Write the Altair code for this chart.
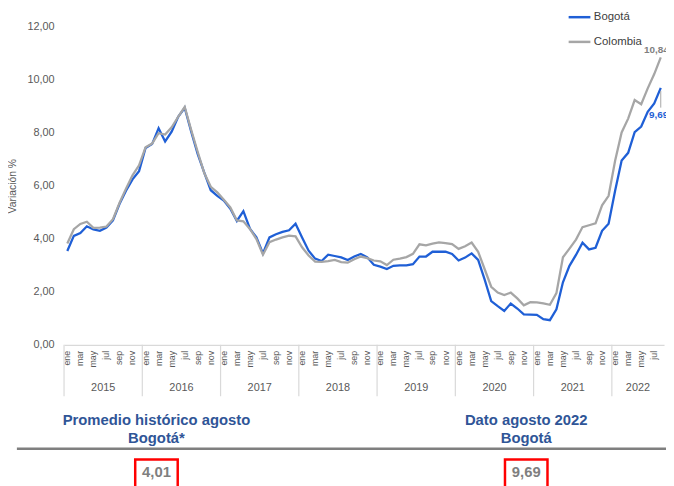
import altair as alt
import pandas as pd

# ---------------- data ----------------
years = [2015, 2016, 2017, 2018, 2019, 2020, 2021, 2022]
month_names = ['ene', 'feb', 'mar', 'abr', 'may', 'jun', 'jul', 'ago', 'sep', 'oct', 'nov', 'dic']

bogota = [
    3.54, 4.11, 4.22, 4.47, 4.35, 4.30, 4.42, 4.69, 5.31, 5.81, 6.24, 6.55,
    7.42, 7.57, 8.17, 7.67, 8.04, 8.60, 8.94, 8.04, 7.19, 6.49, 5.83, 5.62,
    5.44, 5.13, 4.67, 5.04, 4.38, 4.05, 3.45, 4.05, 4.17, 4.26, 4.32, 4.57,
    4.05, 3.55, 3.25, 3.16, 3.40, 3.35, 3.30, 3.20, 3.33, 3.43, 3.30, 3.02,
    2.95, 2.86, 2.98, 3.00, 3.00, 3.04, 3.33, 3.33, 3.51, 3.51, 3.51, 3.43,
    3.18, 3.29, 3.45, 3.20, 2.46, 1.65, 1.46, 1.28, 1.56, 1.37, 1.15, 1.14,
    1.13, 0.97, 0.93, 1.34, 2.36, 2.98, 3.39, 3.85, 3.60, 3.66, 4.30, 4.57,
    5.81, 6.95, 7.24, 8.02, 8.23, 8.79, 9.10, 9.69,
]
colombia = [
    3.82, 4.36, 4.56, 4.64, 4.41, 4.42, 4.46, 4.74, 5.35, 5.89, 6.39, 6.77,
    7.45, 7.59, 7.98, 7.93, 8.20, 8.60, 8.97, 8.10, 7.27, 6.48, 5.96, 5.75,
    5.47, 5.18, 4.69, 4.66, 4.37, 3.99, 3.40, 3.87, 3.97, 4.05, 4.12, 4.09,
    3.68, 3.37, 3.14, 3.13, 3.16, 3.20, 3.12, 3.10, 3.23, 3.33, 3.27, 3.18,
    3.15, 3.01, 3.21, 3.25, 3.31, 3.43, 3.79, 3.75, 3.82, 3.86, 3.84, 3.80,
    3.62, 3.72, 3.86, 3.51, 2.85, 2.19, 1.97, 1.88, 1.97, 1.75, 1.49, 1.61,
    1.60, 1.56, 1.51, 1.95, 3.30, 3.63, 3.97, 4.44, 4.51, 4.58, 5.26, 5.62,
    6.94, 8.01, 8.53, 9.23, 9.07, 9.67, 10.21, 10.84,
]
series_names = ['Bogotá', 'Colombia']
series_colors = ['#1F5FD6', '#A6A6A6']
y_ticks = [0, 2, 4, 6, 8, 10, 12]
x_label_months = ['ene', 'mar', 'may', 'jul', 'sep', 'nov']

summary_titles = [['Promedio histórico agosto', 'Bogotá*'], ['Dato agosto 2022', 'Bogotá']]
summary_values = ['4,01', '9,69']

# ---------------- tables ----------------
n = len(bogota)
rows = []
for i in range(n):
    yr = years[i // 12]
    mo = month_names[i % 12]
    rows.append({'i': i, 'year': yr, 'month': mo, 'series': 'Bogotá', 'val': bogota[i]})
    rows.append({'i': i, 'year': yr, 'month': mo, 'series': 'Colombia', 'val': colombia[i]})
df = pd.DataFrame(rows)

last = df[df['i'] == n - 1].copy()
last['label'] = last['val'].map(lambda v: f"{v:.2f}".replace('.', ','))

yr_rows = []
for k, yr in enumerate(years):
    start = k * 12 - 0.5
    count = min(12, n - k * 12)
    yr_rows.append({'year': str(yr), 'start': start, 'mid': start + count / 2})
yr_df = pd.DataFrame(yr_rows)

mlab_df = pd.DataFrame([{'i': i, 'm': month_names[i % 12]} for i in range(n)
                        if month_names[i % 12] in x_label_months])

FONT = 'Liberation Sans'
W, H = 607, 322
LEFT = 56.7

xscale = alt.Scale(domain=[-0.5, n - 0.5], nice=False, zero=False)
yscale = alt.Scale(domain=[0, 12], nice=False)
color = alt.Color('series:N', scale=alt.Scale(domain=series_names, range=series_colors),
                  sort=series_names,
                  legend=alt.Legend(title=None, orient='none', legendX=509, legendY=-22,
                                    symbolType='stroke', symbolSize=484, symbolStrokeWidth=2.5,
                                    labelFontSize=11.5, labelColor='#404040', labelFont=FONT,
                                    labelOffset=2, rowPadding=7, padding=0))

x_enc = alt.X('i:Q', scale=xscale,
              axis=alt.Axis(labels=False, ticks=False, tickSize=0,
                            domainColor='#D9D9D9', domainWidth=1.2, grid=False, title=None))
y_enc = alt.Y('val:Q', scale=yscale,
              axis=alt.Axis(values=y_ticks,
                            labelExpr="replace(format(datum.value, '.2f'), '.', ',')",
                            domain=False, ticks=False, grid=False, labelFontSize=11,
                            labelColor='#595959', labelFont=FONT, labelPadding=10,
                            title='Variación %', titleFontSize=10.5, titleFontWeight='normal',
                            titleColor='#595959', titleFont=FONT, titlePadding=10))

base = alt.Chart(df)
line_bog = base.transform_filter(alt.datum.series == 'Bogotá').mark_line(strokeWidth=2.3).encode(
    x=x_enc, y=y_enc, color=color)
line_col = base.transform_filter(alt.datum.series == 'Colombia').mark_line(strokeWidth=2.3).encode(
    x='i:Q', y='val:Q', color=color)

lab_base = alt.Chart(last)
lab_col = lab_base.transform_filter(alt.datum.series == 'Colombia').mark_text(
    align='left', baseline='middle', dx=-17, dy=-7, fontSize=10, fontWeight='bold', font=FONT,
    color='#7F7F7F').encode(x='i:Q', y='val:Q', text='label:N')
lab_bog = lab_base.transform_filter(alt.datum.series == 'Bogotá').mark_text(
    align='left', baseline='middle', dx=-12, dy=27, fontSize=10, fontWeight='bold', font=FONT,
    color='#1F5FD6').encode(x='i:Q', y='val:Q', text='label:N')
leader = lab_base.transform_filter(alt.datum.series == 'Bogotá').mark_rule(
    color='#A6A6A6', strokeWidth=1, yOffset=3, y2Offset=20).encode(x='i:Q', y='val:Q', y2='val:Q')

mlab = alt.Chart(mlab_df).mark_text(
    angle=270, align='right', baseline='middle', fontSize=9, color='#595959', font=FONT).encode(
    x='i:Q', y=alt.value(H + 6), text='m:N')

yr_base = alt.Chart(yr_df)
yr_sep = yr_base.mark_rule(color='#D9D9D9', strokeWidth=1.2).encode(
    x='start:Q', y=alt.value(H), y2=alt.value(H + 52))
yr_lab = yr_base.mark_text(fontSize=11, color='#595959', font=FONT, baseline='middle').encode(
    x='mid:Q', y=alt.value(H + 44), text='year:N')


def txt(t, x, y, size, color, weight='bold'):
    return alt.Chart(pd.DataFrame({'t': [t]})).mark_text(
        fontSize=size, fontWeight=weight, color=color, font=FONT, align='center',
        baseline='middle').encode(x=alt.value(x), y=alt.value(y), text='t:N')


ann = []
centers = [158.2 - 64.7, 532.3 - 64.7]
for (l1, l2), cx, v in zip(summary_titles, centers, summary_values):
    ann.append(txt(l1, cx, 398, 15, '#2F5597'))
    ann.append(txt(l2, cx, 416, 15, '#2F5597'))
    ann.append(alt.Chart(pd.DataFrame({'t': [v]})).mark_rect(
        fill=None, stroke='#FF0000', strokeWidth=2.5).encode(
        x=alt.value(cx - 21.5), x2=alt.value(cx + 21.5), y=alt.value(438), y2=alt.value(470)))
    ann.append(txt(v, cx, 450.5, 15, '#7F7F7F'))

hline = alt.Chart(pd.DataFrame({'t': [0]})).mark_rule(color='#7F7F7F', strokeWidth=2.5).encode(
    x=alt.value(-47.7), x2=alt.value(612), y=alt.value(427))

chart = alt.layer(line_bog, line_col, leader, lab_col, lab_bog, mlab, yr_sep, yr_lab, hline, *ann).properties(
    width=W, height=H,
    autosize=alt.AutoSizeParams(type='none'),
    padding={'left': LEFT, 'top': 16, 'right': 2, 'bottom': 140},
    background='white',
).configure_view(stroke=None)

chart.save("out.html", embed_options={"renderer": "svg", "actions": False})
